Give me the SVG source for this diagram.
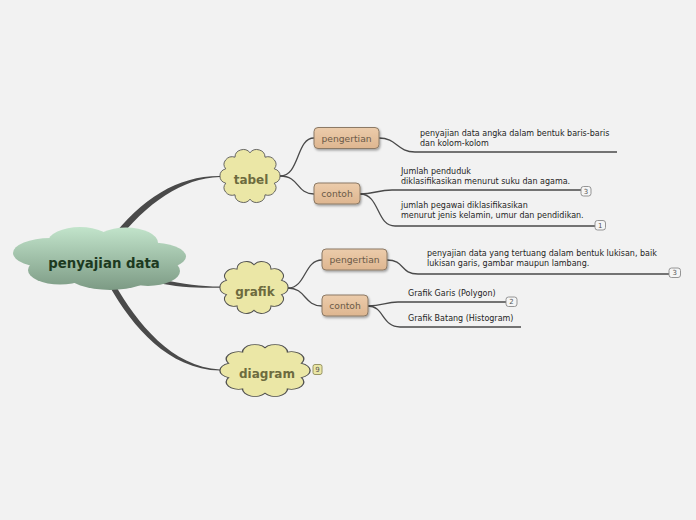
<svg xmlns="http://www.w3.org/2000/svg" xmlns:xlink="http://www.w3.org/1999/xlink" width="696" height="520" viewBox="0 0 696 520">
<defs>
<linearGradient id="gMain" gradientUnits="userSpaceOnUse" x1="0" y1="227" x2="0" y2="291">
<stop offset="0" stop-color="#c2e4cb"/>
<stop offset="1" stop-color="#7b9983"/>
</linearGradient>
<linearGradient id="gBox" x1="0" y1="0" x2="0" y2="1">
<stop offset="0" stop-color="#ecccab"/>
<stop offset="1" stop-color="#deb690"/>
</linearGradient>
<filter id="sh" x="-20%" y="-30%" width="150%" height="170%">
<feDropShadow dx="1" dy="1.5" stdDeviation="0.8" flood-color="#000" flood-opacity="0.35"/>
</filter>
<path id="cloud" d="M32.34,-10.51 A11,11 0 0 1 32.34,10.51 A11,11 0 0 1 19.98,27.51 A11,11 0 0 1 0,34 A11,11 0 0 1 -19.98,27.51 A11,11 0 0 1 -32.34,10.51 A11,11 0 0 1 -32.34,-10.51 A11,11 0 0 1 -19.98,-27.51 A11,11 0 0 1 0,-34 A11,11 0 0 1 19.98,-27.51 A11,11 0 0 1 32.34,-10.51 Z"/>
</defs>
<style>
.cloud{fill:#ebe7a6;stroke:#4f4f4f;stroke-width:1.2;vector-effect:non-scaling-stroke}
.ctext{font-family:"DejaVu Sans","Liberation Sans",sans-serif;font-weight:bold;font-size:12px;fill:#6d6b3e;text-anchor:middle}
.box{fill:url(#gBox);stroke:#8c7a66;stroke-width:1;filter:url(#sh)}
.btext{font-family:"DejaVu Sans","Liberation Sans",sans-serif;font-size:9.2px;fill:#6b5a48;text-anchor:middle}
.leaf{font-family:"DejaVu Sans","Liberation Sans",sans-serif;font-size:8px;fill:#1e1e1e}
.ln{fill:none;stroke:#4a4a4a;stroke-width:1.3}
.thick{fill:#4a4a4a;stroke:none}
.badge{fill:#f5f5f5;stroke:#8a8a8a;stroke-width:0.9}
.badgeY{fill:#ebe7a6;stroke:#8f8c5a;stroke-width:0.9}
.bt{font-family:"DejaVu Sans","Liberation Sans",sans-serif;font-size:7px;fill:#555;text-anchor:middle}
</style>
<rect width="696" height="520" fill="#f2f2f2"/>
<g id="connectors">
<path class="thick" d="M109.6,240.1 C142,198 178,175.6 220,175.9 L220,177.1 C182,178.4 148,202 114.4,243.9 Z"/>
<path class="thick" d="M160,279.5 C185,284 200,286.4 220,286.6 L220,287.8 C200,287.8 185,288 160,283.5 Z"/>
<path class="thick" d="M114.4,283.6 C137,323 172,367.4 220,369.4 L220,370.6 C168,369 133,327 109.6,286.4 Z"/>
<path class="ln" d="M280,176 C300,176 296,138 314,138"/>
<path class="ln" d="M280,176 C300,176 296,194 314,194"/>
<path class="ln" d="M288,288 C306,288 304,260 322,260"/>
<path class="ln" d="M288,288 C306,288 304,306 322,306"/>
<path class="ln" d="M379,138 C397,138 397,152 415,152 H617"/>
<path class="ln" d="M360,194 C374,194 378,190 392,190 H581"/>
<path class="ln" d="M360,194 C380,194 376,226 395,226 H595"/>
<path class="ln" d="M387,260 C405,260 400,274 418,274 H669"/>
<path class="ln" d="M368,306 C383,306 385,302 398,302 H506"/>
<path class="ln" d="M368,306 C384,306 382,327 400,327 H521"/>
</g>
<g id="main">
<g fill="url(#gMain)">
<ellipse cx="100" cy="260" rx="72" ry="20"/>
<ellipse cx="50" cy="253" rx="37" ry="15"/>
<ellipse cx="80" cy="242" rx="32" ry="15"/>
<ellipse cx="126" cy="243" rx="32" ry="15.5"/>
<ellipse cx="150" cy="256.5" rx="36" ry="14"/>
<ellipse cx="60" cy="270" rx="32" ry="14.5"/>
<ellipse cx="110" cy="275" rx="42" ry="15"/>
<ellipse cx="148" cy="271" rx="32" ry="15"/>
</g>
<text x="104" y="268" font-family="DejaVu Sans, Liberation Sans, sans-serif" font-weight="bold" font-size="13.3" fill="#1d3a1f" text-anchor="middle">penyajian data</text>
</g>
<g id="tabel">
<use href="#cloud" xlink:href="#cloud" class="cloud" transform="translate(250,176) scale(0.75,0.684)"/>
<text class="ctext" x="251" y="184">tabel</text>
</g>
<g id="grafik">
<use href="#cloud" xlink:href="#cloud" class="cloud" transform="translate(254,287.5) scale(0.85,0.67)"/>
<text class="ctext" x="255" y="296">grafik</text>
</g>
<g id="diagram">
<use href="#cloud" xlink:href="#cloud" class="cloud" transform="translate(265,370.5) scale(1.125,0.67)"/>
<text class="ctext" x="267" y="378">diagram</text>
<rect class="badgeY" x="313" y="364.5" width="9" height="10" rx="2"/>
<text class="bt" x="317.5" y="372">9</text>
</g>
<g id="tabel-pengertian">
<rect class="box" x="314" y="127.5" width="65" height="21" rx="4"/>
<text class="btext" x="346.5" y="141.5">pengertian</text>
</g>
<g id="tabel-contoh">
<rect class="box" x="314" y="183" width="46" height="21" rx="4"/>
<text class="btext" x="337" y="197">contoh</text>
</g>
<g id="grafik-pengertian">
<rect class="box" x="322" y="249" width="65" height="21" rx="4"/>
<text class="btext" x="354.5" y="263">pengertian</text>
</g>
<g id="grafik-contoh">
<rect class="box" x="322" y="295" width="46" height="21" rx="4"/>
<text class="btext" x="345" y="309">contoh</text>
</g>
<g id="leaf-tabel-1">
<text class="leaf" x="420" y="136">penyajian data angka dalam bentuk baris-baris</text>
<text class="leaf" x="420" y="146">dan kolom-kolom</text>
</g>
<g id="leaf-tabel-2">
<text class="leaf" x="401" y="173.5">Jumlah penduduk</text>
<text class="leaf" x="401" y="183.5">diklasifikasikan menurut suku dan agama.</text>
<rect class="badge" x="581" y="186.5" width="10" height="9.5" rx="2.5"/>
<text class="bt" x="586" y="193.8">3</text>
</g>
<g id="leaf-tabel-3">
<text class="leaf" x="401" y="208">jumlah pegawai diklasifikasikan</text>
<text class="leaf" x="401" y="218">menurut jenis kelamin, umur dan pendidikan.</text>
<rect class="badge" x="595" y="220.5" width="10.5" height="9.5" rx="2.5"/>
<text class="bt" x="600.2" y="227.8">1</text>
</g>
<g id="leaf-grafik-1">
<text class="leaf" x="427" y="256">penyajian data yang tertuang dalam bentuk lukisan, baik</text>
<text class="leaf" x="427" y="265.5">lukisan garis, gambar maupun lambang.</text>
<rect class="badge" x="669" y="268" width="11.5" height="9.5" rx="2.5"/>
<text class="bt" x="674.7" y="275.3">3</text>
</g>
<g id="leaf-grafik-2">
<text class="leaf" x="408" y="296">Grafik Garis (Polygon)</text>
<rect class="badge" x="506" y="297" width="11" height="9.5" rx="2.5"/>
<text class="bt" x="511.5" y="304.3">2</text>
</g>
<g id="leaf-grafik-3">
<text class="leaf" x="408" y="320.5">Grafik Batang (Histogram)</text>
</g>
</svg>
